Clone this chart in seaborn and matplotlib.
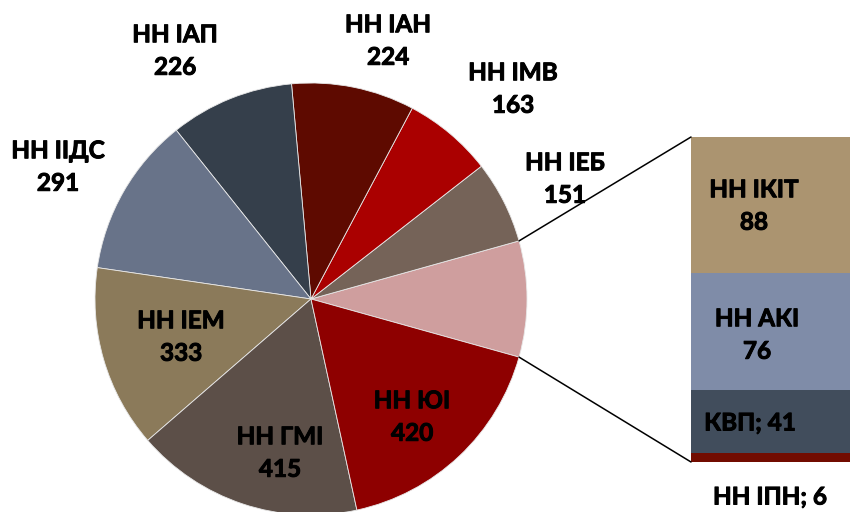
import matplotlib
matplotlib.use("Agg")
import matplotlib.pyplot as plt
import matplotlib.patheffects as pe
from matplotlib.patches import ConnectionPatch
import numpy as np
import seaborn as sns

# Main pie: faculties, with the small ones grouped into "other"
pie_names = ["Інші", "НН ІЕБ", "НН ІМВ", "НН ІАН", "НН ІАП", "НН ІІДС", "НН ІЕМ", "НН ГМІ", "НН ЮІ"]
pie_values = [None, 151, 163, 224, 226, 291, 333, 415, 420]
pie_colors = ["#CF9E9E", "#756358", "#AA0000", "#5E0A00", "#353F4B",
              "#687389", "#8B7A5A", "#5C4F48", "#8E0000"]

# Breakdown bar for the grouped slice (bottom to top)
bar_names = ["НН ІПН", "КВП", "НН АКІ", "НН ІКІТ"]
bar_values = [6, 41, 76, 88]
bar_colors = ["#720C00", "#414D5C", "#7F8CA8", "#AB9470"]

pie_values[0] = sum(bar_values)

sns.set_theme(style="white")
plt.rcParams["font.family"] = ["Lato", "DejaVu Sans"]

W, H = 850, 512
fig = plt.figure(figsize=(W / 100, H / 100), dpi=100)

def px_axes(x0, y0, x1, y1):
    """Axes placed by pixel box (top-left origin)."""
    return fig.add_axes([x0 / W, 1 - y1 / H, (x1 - x0) / W, (y1 - y0) / H])

# Pie
cx, cy, r = 311, 299, 216
ax_pie = px_axes(cx - r, cy - r, cx + r, cy + r)
other_angle = pie_values[0] / sum(pie_values) * 360
start = -other_angle / 2
wedges, _ = ax_pie.pie(pie_values, colors=pie_colors, startangle=start,
                       counterclock=True,
                       wedgeprops=dict(edgecolor="#E8E8E8", linewidth=0.6))
ax_pie.set_xlim(-1, 1)
ax_pie.set_ylim(-1, 1)
ax_pie.set_aspect("equal")
ax_pie.axis("off")

# Stacked breakdown bar
ax_bar = px_axes(691, 137, 850, 462)
bottom = 0
for v, c in zip(bar_values, bar_colors):
    ax_bar.bar(0, v, bottom=bottom, width=1.0, color=c, linewidth=0)
    bottom += v
ax_bar.set_xlim(-0.5, 0.5)
ax_bar.set_ylim(0, sum(bar_values))
ax_bar.axis("off")

# Connector lines from the grouped slice to the bar
for ang, yb in [(np.radians(start + other_angle), 1), (np.radians(start), 0)]:
    con = ConnectionPatch(xyA=(np.cos(ang), np.sin(ang)), coordsA=ax_pie.transData,
                          xyB=(0, yb), coordsB=ax_bar.transAxes,
                          color="black", linewidth=1.1)
    fig.add_artist(con)

# Labels overlay in pixel coordinates
ax_txt = px_axes(0, 0, W, H)
ax_txt.set_xlim(0, W)
ax_txt.set_ylim(H, 0)
ax_txt.axis("off")
ax_txt.patch.set_alpha(0)

style = dict(ha="center", va="center", fontsize=17.5, fontweight="bold",
             color="black", linespacing=1.5,
             path_effects=[pe.withStroke(linewidth=0.7, foreground="black")])

pie_label_pos = {
    "НН ІЕБ": (565, 179),
    "НН ІМВ": (513, 89),
    "НН ІАН": (388, 41),
    "НН ІАП": (175, 51),
    "НН ІІДС": (58, 167),
    "НН ІЕМ": (181, 337),
    "НН ГМІ": (280, 453),
    "НН ЮІ": (412, 417),
}
for name, val in zip(pie_names[1:], pie_values[1:]):
    x, y = pie_label_pos[name]
    ax_txt.text(x, y, f"{name}\n{val}", **style)

bar_label_pos = {
    "НН ІКІТ": (754, 206, True),
    "НН АКІ": (757, 335, True),
    "КВП": (750, 423, False),
    "НН ІПН": (770, 497, False),
}
for name, val in zip(bar_names, bar_values):
    x, y, two_line = bar_label_pos[name]
    txt = f"{name}\n{val}" if two_line else f"{name}; {val}"
    ax_txt.text(x, y, txt, **style)

fig.savefig("out.png", dpi=100)
